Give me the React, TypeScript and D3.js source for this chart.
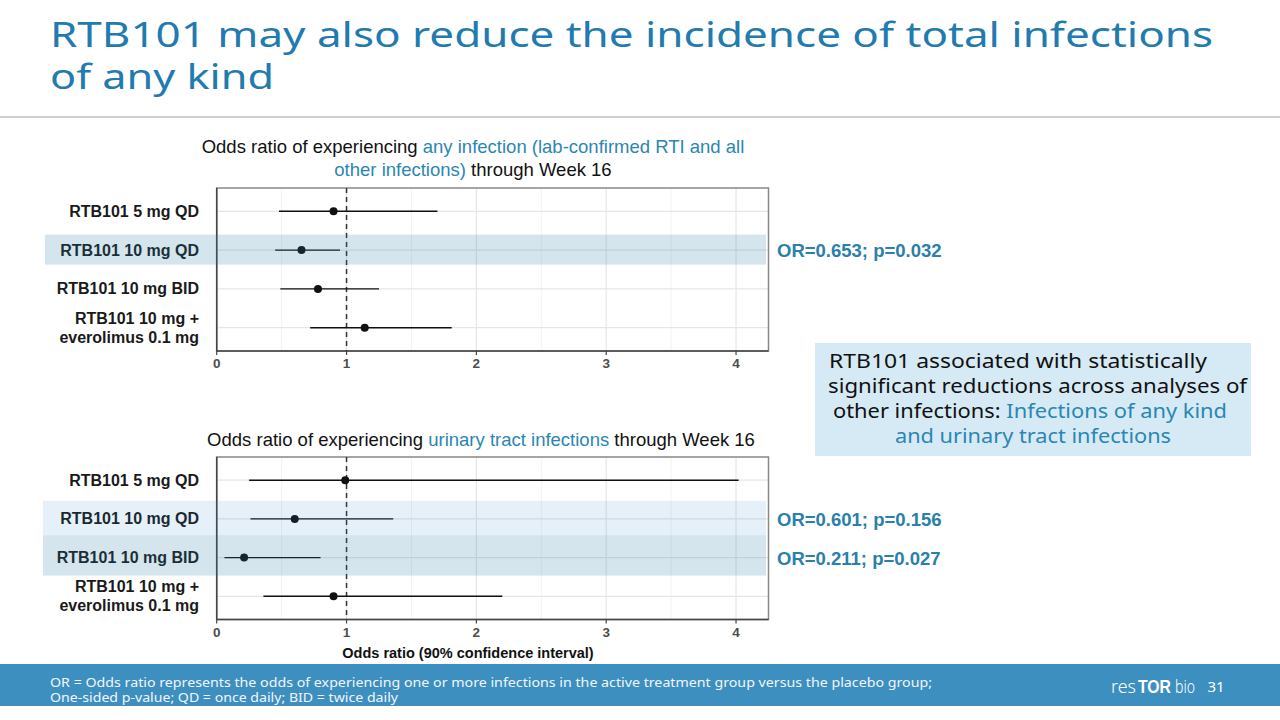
import React from 'react';
import * as d3 from 'd3';

// treatment arms (same order in both panels)
const categories = [
  'RTB101 5 mg QD',
  'RTB101 10 mg QD',
  'RTB101 10 mg BID',
  'RTB101 10 mg + everolimus 0.1 mg',
];

// any infection: odds ratio and 90% CI
const anyOR = [0.9, 0.653, 0.78, 1.14];
const anyLow = [0.48, 0.45, 0.49, 0.72];
const anyHigh = [1.7, 0.95, 1.25, 1.81];

// urinary tract infections: odds ratio and 90% CI
const utiOR = [0.99, 0.601, 0.211, 0.9];
const utiLow = [0.25, 0.26, 0.06, 0.36];
const utiHigh = [4.02, 1.36, 0.8, 2.2];

const xTicks = [0, 1, 2, 3, 4];
const minorTicks = [0.5, 1.5, 2.5, 3.5];

const ARIAL = '"Liberation Sans", Arial, sans-serif';
const GOTHIC = '"Noto Sans", "DejaVu Sans", sans-serif';
const TEAL = '#2a86b3';

type Band = { idx: number; color: string; opacity: number; above: number; below: number; x0: number };

function Forest(props: {
  top: number;
  bottom: number;
  or: number[];
  low: number[];
  high: number[];
  bands: Band[];
}) {
  const { top, bottom, or, low, high, bands } = props;
  const x = d3.scaleLinear().domain([0, 4.25]).range([216.7, 768.5]);
  const y = d3.scalePoint<string>().domain(categories).range([top, bottom]).padding(0.6);
  const left = x(0);
  const right = x(4.25);

  return (
    <g>
      <rect x={left} y={top} width={right - left} height={bottom - top} fill="#fff" />
      {minorTicks.map(t => (
        <line key={'m' + t} x1={x(t)} x2={x(t)} y1={top} y2={bottom} stroke="#f3f3f3" strokeWidth={1} />
      ))}
      {xTicks.map(t => (
        <line key={'g' + t} x1={x(t)} x2={x(t)} y1={top} y2={bottom} stroke="#e6e6e6" strokeWidth={1.2} />
      ))}
      {categories.map(c => (
        <line key={'h' + c} x1={left} x2={right} y1={y(c)!} y2={y(c)!} stroke="#e6e6e6" strokeWidth={1.2} />
      ))}
      <rect x={left} y={top} width={right - left} height={bottom - top} fill="none" stroke="#888" strokeWidth={1.5} />
      <line x1={left} x2={left} y1={top} y2={bottom} stroke="#444" strokeWidth={1.5} />
      <line x1={left} x2={right} y1={bottom} y2={bottom} stroke="#444" strokeWidth={1.5} />
      <line x1={x(1)} x2={x(1)} y1={top} y2={bottom} stroke="#333" strokeWidth={1.5} strokeDasharray="5,4" />

      {categories.map((c, i) => (
        <g key={'e' + c}>
          <line x1={x(low[i])} x2={x(high[i])} y1={y(c)!} y2={y(c)!} stroke="#111" strokeWidth={1.4} />
          <circle cx={x(or[i])} cy={y(c)!} r={4} fill="#111" />
        </g>
      ))}

      {xTicks.map(t => (
        <g key={'t' + t}>
          <line x1={x(t)} x2={x(t)} y1={bottom} y2={bottom + 4} stroke="#444" strokeWidth={1.2} />
          <text x={x(t)} y={bottom + 17} textAnchor="middle" fontFamily={ARIAL} fontWeight="bold" fontSize={13.5} fill="#4d4d4d">
            {t}
          </text>
        </g>
      ))}

      {categories.map((c, i) => {
        const yy = y(c)!;
        if (i === 3) {
          return (
            <text key={'l' + c} x={199} textAnchor="end" fontFamily={ARIAL} fontWeight="bold" fontSize={16} fill="#1a1a1a">
              <tspan x={199} y={yy - 4}>RTB101 10 mg +</tspan>
              <tspan x={199} y={yy + 15}>everolimus 0.1 mg</tspan>
            </text>
          );
        }
        return (
          <text key={'l' + c} x={199} y={yy + 5.5} textAnchor="end" fontFamily={ARIAL} fontWeight="bold" fontSize={16} fill="#1a1a1a">
            {c}
          </text>
        );
      })}

      {bands.map(b => {
        const yy = y(categories[b.idx])!;
        return (
          <rect key={'b' + b.idx} x={b.x0} y={yy - b.above} width={766 - b.x0} height={b.above + b.below} fill={b.color} fillOpacity={b.opacity} />
        );
      })}
    </g>
  );
}

export default function App() {
  return (
    <svg width={1280} height={720} viewBox="0 0 1280 720" style={{ position: 'absolute', left: 0, top: 0, background: '#fff' }}>
      <rect width={1280} height={720} fill="#fff" />

      {/* slide title */}
      <text fontFamily={GOTHIC} fontSize={34} fill="#1f7bb0">
        <tspan x={50} y={47} textLength={1163} lengthAdjust="spacingAndGlyphs">
          RTB101 may also reduce the incidence of total infections
        </tspan>
        <tspan x={50} y={89} textLength={224} lengthAdjust="spacingAndGlyphs">
          of any kind
        </tspan>
      </text>
      <line x1={0} x2={1280} y1={117} y2={117} stroke="#cfcfcf" strokeWidth={2} />

      {/* top panel title */}
      <text textAnchor="middle" fontFamily={ARIAL} fontSize={18.5} fill="#111">
        <tspan x={473} y={153}>
          Odds ratio of experiencing <tspan fill={TEAL}>any infection (lab-confirmed RTI and all</tspan>
        </tspan>
        <tspan x={473} y={176}>
          <tspan fill={TEAL}>other infections)</tspan> through Week 16
        </tspan>
      </text>

      <Forest
        top={188}
        bottom={351}
        or={anyOR}
        low={anyLow}
        high={anyHigh}
        bands={[{ idx: 1, color: '#2a7fa5', opacity: 0.2, above: 15.5, below: 14.5, x0: 45 }]}
      />

      <text x={777} y={257} fontFamily={ARIAL} fontWeight="bold" fontSize={18.5} fill="#2a80ab">
        OR=0.653; p=0.032
      </text>

      {/* bottom panel title */}
      <text x={481} y={446} textAnchor="middle" fontFamily={ARIAL} fontSize={18.5} fill="#111">
        Odds ratio of experiencing <tspan fill={TEAL}>urinary tract infections</tspan> through Week 16
      </text>

      <Forest
        top={457}
        bottom={619.5}
        or={utiOR}
        low={utiLow}
        high={utiHigh}
        bands={[
          { idx: 1, color: '#2f82c5', opacity: 0.12, above: 18, below: 17, x0: 43 },
          { idx: 2, color: '#2a7fa5', opacity: 0.2, above: 22, below: 18, x0: 43 },
        ]}
      />

      <text x={468} y={658} textAnchor="middle" fontFamily={ARIAL} fontWeight="bold" fontSize={14.5} fill="#111">
        Odds ratio (90% confidence interval)
      </text>

      <text x={777} y={526} fontFamily={ARIAL} fontWeight="bold" fontSize={18.5} fill="#2a80ab">
        OR=0.601; p=0.156
      </text>
      <text x={777} y={565} fontFamily={ARIAL} fontWeight="bold" fontSize={18.5} fill="#2a80ab">
        OR=0.211; p=0.027
      </text>

      {/* call-out box */}
      <rect x={815} y={343} width={436} height={113} fill="#d6eaf5" />
      <text fontFamily={GOTHIC} fontSize={19.5} fill="#111">
        <tspan x={829} y={368} textLength={378} lengthAdjust="spacingAndGlyphs">RTB101 associated with statistically</tspan>
        <tspan x={828} y={393} textLength={419} lengthAdjust="spacingAndGlyphs">significant reductions across analyses of</tspan>
        <tspan x={833} y={418} textLength={394} lengthAdjust="spacingAndGlyphs">
          other infections: <tspan fill={TEAL}>Infections of any kind</tspan>
        </tspan>
        <tspan x={895} y={443} textLength={276} lengthAdjust="spacingAndGlyphs" fill={TEAL}>and urinary tract infections</tspan>
      </text>

      {/* footer */}
      <rect x={0} y={664} width={1280} height={42} fill="#3d8fc0" />
      <text x={50} y={687} fontFamily={GOTHIC} fontSize={12} fill="#f2f6fa" textLength={882} lengthAdjust="spacingAndGlyphs">
        OR = Odds ratio represents the odds of experiencing one or more infections in the active treatment group versus the placebo group;
      </text>
      <text x={50} y={702} fontFamily={GOTHIC} fontSize={12} fill="#f2f6fa" textLength={348} lengthAdjust="spacingAndGlyphs">
        One-sided p-value; QD = once daily; BID = twice daily
      </text>
      <text x={1111} y={693} fontFamily={GOTHIC} fontSize={19} fontWeight={300} fill="#fff" textLength={25} lengthAdjust="spacingAndGlyphs">
        res
      </text>
      <text x={1138} y={693} fontFamily={ARIAL} fontSize={19} fontWeight="bold" fill="#fff" textLength={33} lengthAdjust="spacingAndGlyphs">
        TOR
      </text>
      <text x={1175} y={693} fontFamily={GOTHIC} fontSize={19} fontWeight={300} fill="#fff" textLength={20} lengthAdjust="spacingAndGlyphs">
        bio
      </text>
      <text x={1216} y={692} textAnchor="middle" fontFamily={GOTHIC} fontSize={15} fill="#fff">
        31
      </text>
    </svg>
  );
}
